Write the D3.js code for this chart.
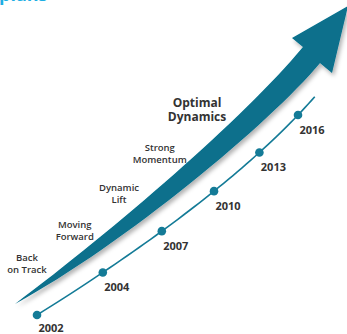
<!DOCTYPE html>
<html>
<head>
<meta charset="utf-8">
<script src="https://cdn.jsdelivr.net/npm/d3@7"></script>
<style>
  body { margin: 0; background: #fff; }
  svg { display: block; }
</style>
</head>
<body>
<div id="chart"></div>
<script>
// Heading fragment (cut off at the top of the crop)
const heading = "plans";

// Milestone years along the timeline
const years = [2002, 2004, 2007, 2010, 2013, 2016];

// Stage captions along the arrow, two lines each
const stages = [
    ["Back", "on Track"],
    ["Moving", "Forward"],
    ["Dynamic", "Lift"],
    ["Strong", "Momentum"],
    ["Optimal", "Dynamics"]
];

const width = 347;
const height = 334;
const arrowColor = "#076f8c";
const lineColor = "#147b97";
const textColor = "#333";

const svg = d3.select("#chart")
    .append("svg")
    .attr("width", width)
    .attr("height", height);

// soft shadow under the arrow
const defs = svg.append("defs");
defs.append("filter")
    .attr("id", "shadow")
    .attr("x", "-20%").attr("y", "-20%")
    .attr("width", "140%").attr("height", "140%")
    .append("feDropShadow")
    .attr("dx", 2).attr("dy", 3)
    .attr("stdDeviation", 2.2)
    .attr("flood-color", "#000")
    .attr("flood-opacity", 0.3);

// quadratic bezier helper
function bez(p0, p1, p2, t) {
    const a = (1 - t) * (1 - t), b = 2 * t * (1 - t), c = t * t;
    return [a * p0[0] + b * p1[0] + c * p2[0], a * p0[1] + b * p1[1] + c * p2[1]];
}

// heading
svg.append("text")
    .attr("x", -1)
    .attr("y", 1)
    .attr("font-family", "Open Sans")
    .attr("font-weight", 700)
    .attr("font-size", 18)
    .attr("fill", "#1eaee3")
    .text(heading);

// arrow: tapered, slightly curved shaft with a head
const arrowPath = d3.path();
arrowPath.moveTo(15, 304);
arrowPath.bezierCurveTo(115, 229, 243, 119, 303, 47);
arrowPath.lineTo(292, 38);
arrowPath.lineTo(348, 6);
arrowPath.lineTo(332, 73);
arrowPath.lineTo(320, 63);
arrowPath.bezierCurveTo(270, 123, 125, 244, 15, 304);
arrowPath.closePath();

svg.append("path")
    .attr("d", arrowPath.toString())
    .attr("fill", arrowColor)
    .attr("filter", "url(#shadow)");

// timeline: years spread evenly along a gentle curve
const tScale = d3.scalePoint().domain(years).range([0, 1]);
const L0 = [37, 315], L1 = [210, 207], L2 = [298, 115];
const timePos = d => bez(L0, L1, L2, tScale(d));

const lineGen = d3.line();
svg.append("path")
    .attr("d", lineGen(d3.range(0, 1.1001, 0.02).map(t => bez(L0, L1, L2, t))))
    .attr("fill", "none")
    .attr("stroke", lineColor)
    .attr("stroke-width", 1.6);

svg.selectAll(".dot")
    .data(years)
    .enter()
    .append("circle")
    .attr("class", "dot")
    .attr("cx", d => timePos(d)[0])
    .attr("cy", d => timePos(d)[1])
    .attr("r", 4.3)
    .attr("fill", lineColor);

svg.selectAll(".year")
    .data(years)
    .enter()
    .append("text")
    .attr("class", "year")
    .attr("x", d => timePos(d)[0] + 14)
    .attr("y", d => Math.min(timePos(d)[1] + 19, height - 2))
    .attr("text-anchor", "middle")
    .attr("font-family", "Open Sans")
    .attr("font-weight", 700)
    .attr("font-size", 11)
    .attr("fill", textColor)
    .text(d => d);

// stage captions along the upper side of the arrow
const sScale = d3.scalePoint().domain(d3.range(stages.length)).range([0, 1]);
const S0 = [27, 261], S1 = [126, 198], S2 = [197, 107];

stages.forEach((lines, i) => {
    const p = bez(S0, S1, S2, sScale(i));
    const big = i === stages.length - 1;
    const txt = svg.append("text")
        .attr("text-anchor", "middle")
        .attr("font-family", "Open Sans")
        .attr("font-weight", big ? 700 : 600)
        .attr("font-size", big ? 12 : 9.5)
        .attr("fill", textColor);
    lines.forEach((line, j) => {
        txt.append("tspan")
            .attr("x", p[0])
            .attr("y", p[1] + j * (big ? 14 : 12))
            .text(line);
    });
});
</script>
</body>
</html>
